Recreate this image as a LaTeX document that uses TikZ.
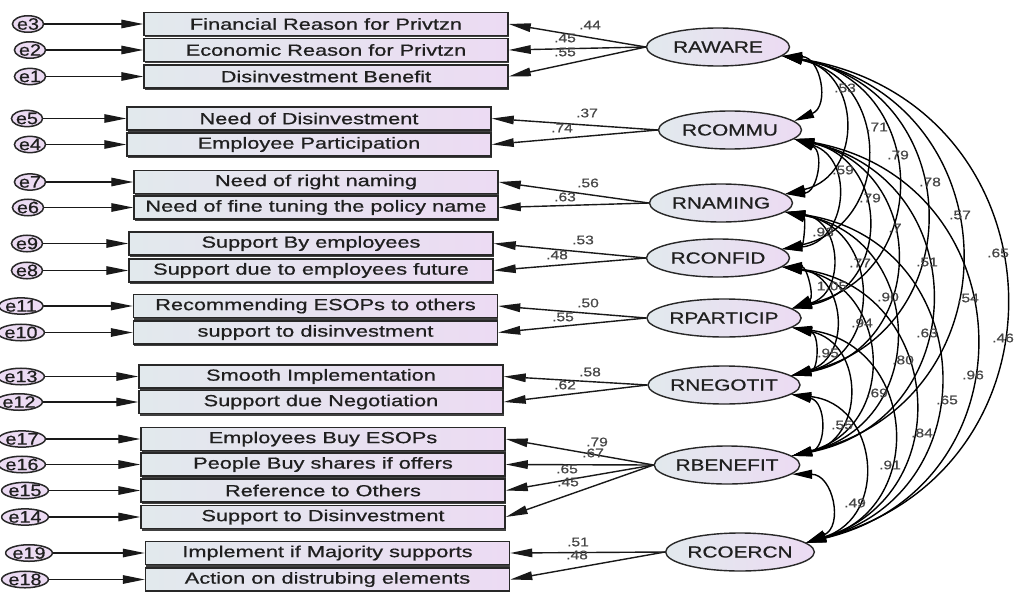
\documentclass[tikz,border=0pt]{standalone}
\usepackage{fontspec}
\setmainfont{Liberation Sans}
\newfontfamily\mf{Liberation Sans}[FakeBold=0.6]
\usepackage{graphicx}
\usetikzlibrary{arrows.meta,shapes.geometric,shadows}
\definecolor{lavL}{RGB}{226,233,237}
\definecolor{lavR}{RGB}{236,219,243}
\definecolor{edgec}{RGB}{40,40,40}
\newcommand\bt[1]{\scalebox{1.36}[1]{#1}}
\newcommand\lt[1]{\scalebox{1.3}[1]{#1}}
\newcommand\nt[1]{\scalebox{1.25}[1]{#1}}
\newcommand\et[1]{\scalebox{1.2}[1]{#1}}
\begin{document}
\begin{tikzpicture}[x=1pt,y=-1pt,
 obs/.style={draw=edgec, line width=1.5pt, left color=lavL, right color=lavR,
   minimum width=364pt, minimum height=23pt, inner sep=0pt,
   font=\mf\fontsize{16}{18}\selectfont, text=black!88,
   drop shadow={shadow xshift=0.8pt, shadow yshift=-2pt, fill=black!75, opacity=1}},
 lat/.style={ellipse, draw=edgec, line width=1.4pt, left color=lavL, right color=lavR,
   minimum width=143pt, minimum height=38pt, inner sep=0pt,
   font=\mf\fontsize{16}{18}\selectfont, text=black!88},
 err/.style={ellipse, draw=edgec, line width=1.5pt, fill=lavR,
   minimum width=22pt, minimum height=15pt, inner sep=0pt,
   font=\mf\fontsize{16.5}{18}\selectfont, text=black!88},
 lab/.style={font=\mf\fontsize{12.5}{14}\selectfont, text=black!72, inner sep=0pt},
 arr/.style={line width=1.4pt, draw=black!90, -{Triangle[length=22pt,width=8.5pt]}},
 cov/.style={line width=1.4pt, draw=black, {Triangle[length=20pt,width=9pt]}-{Triangle[length=20pt,width=9pt]},
   bend left=78, looseness=1.5},
]
\useasboundingbox[fill=white] (0,0) rectangle (1016,591);

% observed boxes
\node[obs] (b3) at (326,24) {\bt{Financial Reason for Privtzn}};
\node[obs] (b2) at (326,50) {\bt{Economic Reason for Privtzn}};
\node[obs] (b1) at (326,76.5) {\bt{Disinvestment Benefit}};
\node[obs] (b5) at (309,118.5) {\bt{Need of Disinvestment}};
\node[obs] (b4) at (309,144.5) {\bt{Employee Participation}};
\node[obs] (b7) at (316,182) {\bt{Need of right naming}};
\node[obs] (b6) at (316,207.5) {\bt{Need of fine tuning the policy name}};
\node[obs] (b9) at (311,243.5) {\bt{Support By employees}};
\node[obs] (b8) at (311,270.5) {\bt{Support due to employees future}};
\node[obs] (b11) at (315.5,306) {\bt{Recommending ESOPs to others}};
\node[obs] (b10) at (315.5,332.5) {\bt{support to disinvestment}};
\node[obs] (b13) at (321,376.5) {\bt{Smooth Implementation}};
\node[obs] (b12) at (321,402) {\bt{Support due Negotiation}};
\node[obs] (b17) at (323,439) {\bt{Employees Buy ESOPs}};
\node[obs] (b16) at (323,464.5) {\bt{People Buy shares if offers}};
\node[obs] (b15) at (323,490.5) {\bt{Reference to Others}};
\node[obs] (b14) at (323,517) {\bt{Support to Disinvestment}};
\node[obs] (b19) at (327.5,553) {\bt{Implement if Majority supports}};
\node[obs] (b18) at (327.5,579.5) {\bt{Action on distrubing elements}};

% error terms
\node[err] (e3) at (28,24) {\et{e3}};
\node[err] (e2) at (30,50) {\et{e2}};
\node[err] (e1) at (30,76.5) {\et{e1}};
\node[err] (e5) at (27,118.5) {\et{e5}};
\node[err] (e4) at (30,144.5) {\et{e4}};
\node[err] (e7) at (30,182) {\et{e7}};
\node[err] (e6) at (28,207.5) {\et{e6}};
\node[err] (e9) at (27,243.5) {\et{e9}};
\node[err] (e8) at (27,270.5) {\et{e8}};
\node[err] (e11) at (21,306) {\et{e11}};
\node[err] (e10) at (21,332.5) {\et{e10}};
\node[err] (e13) at (21,376.5) {\et{e13}};
\node[err] (e12) at (19,402) {\et{e12}};
\node[err] (e17) at (22,439) {\et{e17}};
\node[err] (e16) at (22,464.5) {\et{e16}};
\node[err] (e15) at (25,490.5) {\et{e15}};
\node[err] (e14) at (25,517) {\et{e14}};
\node[err] (e19) at (29,553) {\et{e19}};
\node[err] (e18) at (25,579.5) {\et{e18}};

\foreach \n in {1,...,19} \draw[arr] (e\n) -- (b\n);

% latent variables
\node[lat] (AW) at (718,47) {\lt{RAWARE}};
\node[lat] (CM) at (730,130) {\lt{RCOMMU}};
\node[lat] (NM) at (721,203) {\lt{RNAMING}};
\node[lat] (CF) at (718,258) {\lt{RCONFID}};
\node[lat, minimum width=145pt] (PA) at (724,318) {\lt{RPARTICIP}};
\node[lat, minimum width=145pt] (NG) at (724,385) {\lt{RNEGOTIT}};
\node[lat, minimum width=145pt] (BN) at (727,465) {\lt{RBENEFIT}};
\node[lat, minimum width=145pt] (CO) at (740,552) {\lt{RCOERCN}};

% loadings
\foreach \b in {3,2,1} \draw[arr] (AW.west) -- (b\b.east);
\foreach \b in {5,4} \draw[arr] (CM.west) -- (b\b.east);
\foreach \b in {7,6} \draw[arr] (NM.west) -- (b\b.east);
\foreach \b in {9,8} \draw[arr] (CF.west) -- (b\b.east);
\foreach \b in {11,10} \draw[arr] (PA.west) -- (b\b.east);
\foreach \b in {13,12} \draw[arr] (NG.west) -- (b\b.east);
\foreach \b in {17,16,15,14} \draw[arr] (BN.west) -- (b\b.east);
\foreach \b in {19,18} \draw[arr] (CO.west) -- (b\b.east);

% covariances
\foreach \t in {CM,NM,CF,PA,NG,BN,CO} \draw[cov] (AW.-8) to (\t.8);
\foreach \t in {NM,CF,PA,NG,BN,CO} \draw[cov] (CM.-8) to (\t.8);
\foreach \t in {CF,PA,NG,BN,CO} \draw[cov] (NM.-8) to (\t.8);
\foreach \t in {PA,NG,BN,CO} \draw[cov] (CF.-8) to (\t.8);
\foreach \t in {NG,BN,CO} \draw[cov] (PA.-8) to (\t.8);
\foreach \t in {BN,CO} \draw[cov] (NG.-8) to (\t.8);
\draw[cov] (BN.-8) to (CO.8);

% loading labels
\foreach \x/\y/\v [count=\k] in {590/25/.44, 565/38/.45, 565/52/.55, 587/113/.37, 562/128/.74,
  588/183/.56, 565/197/.63, 583/240/.53, 557/255/.48, 588/303/.50, 563/317/.55,
  590/372/.58, 565/385/.62, 597/442/.79, 593/453/.67, 567/469/.65, 568/482/.45,
  578/542/.51, 577/555/.48}
  \node[lab] (ld\k) at (\x,\y) {\nt{\v}};

% covariance labels
\foreach \x/\y/\v [count=\k] in {845/88/.53, 877/127/.71, 898/155/.79, 930/182/.78, 960/215/.57,
  998/253/.65, 1003/338/.46, 843/170/.59, 870/198/.79, 895/228/.7, 927/262/.51, 968/298/.54,
  973/375/.96, 823/232/.93, 860/263/.77, 888/297/.90, 927/333/.63, 947/400/.65,
  832/286/1.05, 862/323/.94, 903/360/.80, 922/433/.84, 828/353/.95, 877/393/.69,
  890/465/.91, 842/425/.55, 855/503/.49}
  \node[lab] (cl\k) at (\x,\y) {\nt{\v}};
\end{tikzpicture}
\end{document}
